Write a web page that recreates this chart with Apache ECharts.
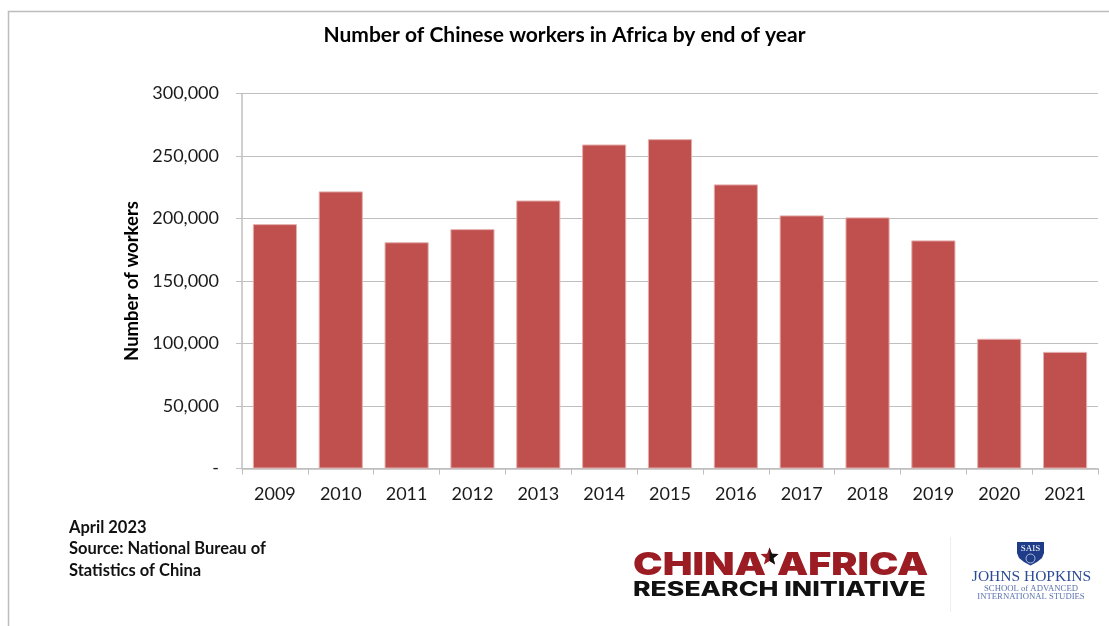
<!DOCTYPE html>
<html>
<head>
<meta charset="utf-8">
<style>html,body{margin:0;padding:0;background:#fff}#chart{width:1109px;height:626px}</style>
<script src="https://cdn.jsdelivr.net/npm/echarts@6/dist/echarts.min.js"></script>
</head>
<body>
<div id="chart"></div>
<script>
const years = ['2009','2010','2011','2012','2013','2014','2015','2016','2017','2018','2019','2020','2021'];
const workers = [195500,221700,181000,191500,214400,259200,263500,227300,202500,200900,182500,103800,93300];
const chartTitle = 'Number of Chinese workers in Africa by end of year';
const yAxisTitle = 'Number of workers';
const sourceLines = ['April 2023','Source: National Bureau of','Statistics of China'];

const chart = echarts.init(document.getElementById('chart'));
const uiFont = 'Lato';
const grey = '#bfbfbf';

function txt(x, y, text, font, fill, extra) {
  return Object.assign({type:'text', x, y, style:{text, font, fill, textVerticalAlign:'middle'}}, extra || {});
}
function centred(x, y, text, font, fill) {
  return {type:'text', x, y, style:{text, font, fill, textAlign:'center', textVerticalAlign:'middle'}};
}

chart.setOption({
  animation:false,
  backgroundColor:'#fff',
  title:{text:chartTitle,left:559.5,top:20,textAlign:'center',
    textStyle:{fontFamily:uiFont,fontSize:21,fontWeight:'bold',color:'#000'}},
  grid:{left:242,right:11,top:93.5,bottom:157.5},
  xAxis:{type:'category',data:years,
    axisLine:{lineStyle:{color:grey,width:1.5}},
    axisTick:{show:true,length:6,alignWithLabel:false,lineStyle:{color:grey,width:1}},
    axisLabel:{fontFamily:uiFont,fontSize:18,color:'#1a1a1a',margin:17}},
  yAxis:{type:'value',min:0,max:300000,interval:50000,
    name:yAxisTitle,nameLocation:'middle',nameGap:99,nameRotate:90,
    nameTextStyle:{fontFamily:uiFont,fontSize:18.5,fontWeight:'bold',color:'#000'},
    axisLine:{show:true,lineStyle:{color:grey,width:1.5}},
    axisTick:{show:true,length:6,lineStyle:{color:grey,width:1}},
    splitLine:{show:true,lineStyle:{color:grey,width:1}},
    axisLabel:{fontFamily:uiFont,fontSize:18,color:'#1a1a1a',margin:23,
      formatter:v=>v===0?'-':v.toLocaleString('en-US')}},
  series:[{type:'bar',data:workers,barCategoryGap:'33%',
    itemStyle:{color:'#c0504d',borderColor:'#e3aeac',borderWidth:1}}],
  graphic:[
    // outer frame, open at the right and bottom
    {type:'polyline',shape:{points:[[8.5,626],[8.5,11.5],[1109,11.5]]},style:{stroke:'#bdbdbd',lineWidth:1.5,fill:null}},

    // source note
    ...sourceLines.map((t,i)=>txt(69,527.5+i*21.5,t,`bold 16.5px ${uiFont}`,'#111')),

    // research initiative wordmark
    txt(633,565,'CHINA',`900 32px Inter`,'#9b1c22',{scaleX:1.24}),
    txt(777,565,'AFRICA',`900 32px Inter`,'#9b1c22',{scaleX:1.23}),
    {type:'polygon',shape:{points:[[769.5,547.5],[771.9,553.7],[778.5,554.1],[773.4,558.3],[775.1,564.6],[769.5,561.1],[763.9,564.6],[765.6,558.3],[760.5,554.1],[767.1,553.7]]},style:{fill:'#9b1c22'}},
    {type:'polygon',shape:{points:[[769.5,547.5],[771.9,553.7],[778.5,554.1],[773.4,558.3],[775.1,564.6],[769.5,561.1]]},style:{fill:'#111'}},
    txt(633,590,'RESEARCH INITIATIVE',`800 20px Inter`,'#111',{scaleX:1.33}),

    // divider between the two marks
    {type:'line',shape:{x1:950.5,y1:537,x2:950.5,y2:612},style:{stroke:'#eeeeee',lineWidth:1}},

    // school shield and name
    {type:'polygon',shape:{points:[[1017,542],[1044,542],[1044,553],[1042,558],[1037,562],[1030.5,565.5],[1024,562],[1019,558],[1017,553]]},style:{fill:'#1f3c88'}},
    centred(1030.5,549,'SAIS','9px "Liberation Serif"','#fff'),
    {type:'circle',shape:{cx:1030.5,cy:558.5,r:4.5},style:{fill:'none',stroke:'#cfd8ee',lineWidth:0.8}},
    centred(1031.5,577,'JOHNS HOPKINS','15.5px "Liberation Serif"','#2b4a94'),
    centred(1031,588.5,'SCHOOL of ADVANCED','8.7px "Liberation Serif"','#5a71ad'),
    centred(1031,596.5,'INTERNATIONAL STUDIES','8.7px "Liberation Serif"','#5a71ad')
  ]
});
</script>
</body>
</html>
